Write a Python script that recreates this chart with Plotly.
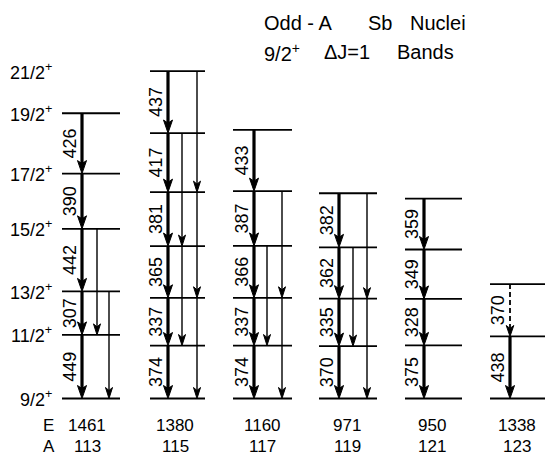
import numpy as np
import plotly.graph_objects as go

# ---------------- data ----------------
mass_numbers = ["113", "115", "117", "119", "121", "123"]
bandhead_energies = ["1461", "1380", "1160", "971", "950", "1338"]
# M1 (DeltaJ=1) transition energies in keV, from 9/2+ upward
transitions = {
    "113": [449, 307, 442, 390, 426],
    "115": [374, 337, 365, 381, 417, 437],
    "117": [374, 337, 366, 387, 433],
    "119": [370, 335, 362, 382],
    "121": [375, 328, 349, 359],
    "123": [438, 370],
}
# tentative (dashed) transitions: (band, index)
tentative = [("123", 1)]
# E2 crossovers: band -> list of (column, from-level index, to-level index)
crossovers = {
    "113": [(1, 3, 1), (2, 2, 0)],
    "115": [(1, 5, 3), (1, 3, 1), (2, 6, 4), (2, 4, 2), (2, 2, 0)],
    "117": [(1, 3, 1), (2, 4, 2), (2, 2, 0)],
    "119": [(1, 3, 1), (2, 4, 2), (2, 2, 0)],
    "121": [],
    "123": [],
}
spin_labels = ["9/2", "11/2", "13/2", "15/2", "17/2", "19/2", "21/2"]

# ---------------- layout (pixel-based x positions) ----------------
W, H = 545, 457
S = 7.06          # keV per pixel
Y0 = 398.5        # pixel row of the 9/2+ level
yrange = [-(H - Y0) * S, Y0 * S]

band_x = {  # (line start, line end, main arrow, crossover col1, crossover col2)
    "113": (62, 120, 82, 97, 109),
    "115": (150, 205, 168, 182, 197),
    "117": (233, 292, 254, 267, 282),
    "119": (319, 377, 339, 353, 367),
    "121": (405, 462, 424, None, None),
    "123": (490, 545, 510, None, None),
}
label_x = {"113": 87, "115": 175, "117": 262, "119": 347, "121": 432, "123": 517}

FONT = "Liberation Sans, Arial, sans-serif"


def ey(px):
    """pixel row -> energy coordinate"""
    return (Y0 - px) * S


fig = go.Figure()

lvl_x, lvl_y = [], []
main_x, main_y = [], []
thin_x, thin_y = [], []
dash_x, dash_y = [], []
headT_x, headT_y = [], []
headt_x, headt_y = [], []
annotations = []


def add_head(xs, ys, x, e, L, Wd):
    xs += [x - Wd / 2, x, x + Wd / 2, x, x - Wd / 2, None]
    ys += [e + L * S, e, e + L * S, e + (L - 3) * S, e + L * S, None]


levels_by_band = {}
for b in mass_numbers:
    tr = transitions[b]
    lv = [0] + list(np.cumsum(tr))
    levels_by_band[b] = lv
    x0, x1, xm, c1, c2 = band_x[b]
    for e in lv:
        lvl_x += [x0, x1, None]
        lvl_y += [e, e, None]
    for i, t in enumerate(tr):
        top, bot = lv[i + 1], lv[i]
        if (b, i) in tentative:
            dash_x += [xm, xm, None]
            dash_y += [top, bot + 8 * S, None]
            add_head(headt_x, headt_y, xm, bot, 11, 7.5)
        else:
            main_x += [xm, xm, None]
            main_y += [top, bot + 8 * S, None]
            add_head(headT_x, headT_y, xm, bot, 13, 9)
        annotations.append(dict(
            x=xm - 12, y=(top + bot) / 2, xref="x", yref="y", text=str(t),
            textangle=-90, showarrow=False,
            font=dict(family=FONT, size=18, color="black")))
    for col, fi, ti in crossovers[b]:
        xc = c1 if col == 1 else c2
        thin_x += [xc, xc, None]
        thin_y += [lv[fi], lv[ti] + 6 * S, None]
        add_head(headt_x, headt_y, xc, lv[ti], 11, 7)

fig.add_trace(go.Scatter(x=lvl_x, y=lvl_y, mode="lines",
                         line=dict(color="black", width=1.8), hoverinfo="skip"))
fig.add_trace(go.Scatter(x=main_x, y=main_y, mode="lines",
                         line=dict(color="black", width=3.2), hoverinfo="skip"))
fig.add_trace(go.Scatter(x=thin_x, y=thin_y, mode="lines",
                         line=dict(color="black", width=1.4), hoverinfo="skip"))
fig.add_trace(go.Scatter(x=dash_x, y=dash_y, mode="lines",
                         line=dict(color="black", width=1.8, dash="5px,3px"),
                         hoverinfo="skip"))
fig.add_trace(go.Scatter(x=headT_x, y=headT_y, mode="lines", fill="toself",
                         fillcolor="black", line=dict(color="black", width=1),
                         hoverinfo="skip"))
fig.add_trace(go.Scatter(x=headt_x, y=headt_y, mode="lines", fill="toself",
                         fillcolor="black", line=dict(color="black", width=1),
                         hoverinfo="skip"))

# spin labels on the left (levels of A=113, plus 21/2 from A=115)
spin_E = levels_by_band["113"] + [levels_by_band["115"][6]]
for lab, e in zip(spin_labels, spin_E):
    annotations.append(dict(
        x=54, y=e, xref="x", yref="y", xanchor="right",
        text=lab + "<sup>+</sup>", showarrow=False,
        font=dict(family=FONT, size=18, color="black")))

# E and A rows
for b, en in zip(mass_numbers, bandhead_energies):
    xc = label_x[b]
    annotations.append(dict(x=xc, y=ey(425), xref="x", yref="y", text=en,
                            showarrow=False, borderpad=0,
                            font=dict(family=FONT, size=17, color="black")))
    annotations.append(dict(x=xc, y=ey(446), xref="x", yref="y", text=b,
                            showarrow=False, borderpad=0,
                            font=dict(family=FONT, size=17, color="black")))
annotations.append(dict(x=48, y=ey(425), xref="x", yref="y", text="E",
                        showarrow=False, borderpad=0,
                        font=dict(family=FONT, size=17, color="black")))
annotations.append(dict(x=49, y=ey(446), xref="x", yref="y", text="A",
                        showarrow=False, borderpad=0,
                        font=dict(family=FONT, size=17, color="black")))

# title pieces
title_parts = [
    ("Odd - A", 262, 23), ("Sb", 366, 23), ("Nuclei", 408, 23),
    ("9/2<sup>+</sup>", 262, 52), ("ΔJ=1", 322, 52), ("Bands", 395, 52),
]
for txt, x, y in title_parts:
    annotations.append(dict(x=x, y=ey(y), xref="x", yref="y", xanchor="left",
                            text=txt, showarrow=False,
                            font=dict(family=FONT, size=20, color="black")))

fig.update_layout(
    width=W, height=H, margin=dict(l=0, r=0, t=0, b=0),
    paper_bgcolor="white", plot_bgcolor="white", showlegend=False,
    xaxis=dict(range=[0, W], visible=False, fixedrange=True),
    yaxis=dict(range=yrange, visible=False, fixedrange=True),
    annotations=annotations,
)

fig.write_html("out.html")
